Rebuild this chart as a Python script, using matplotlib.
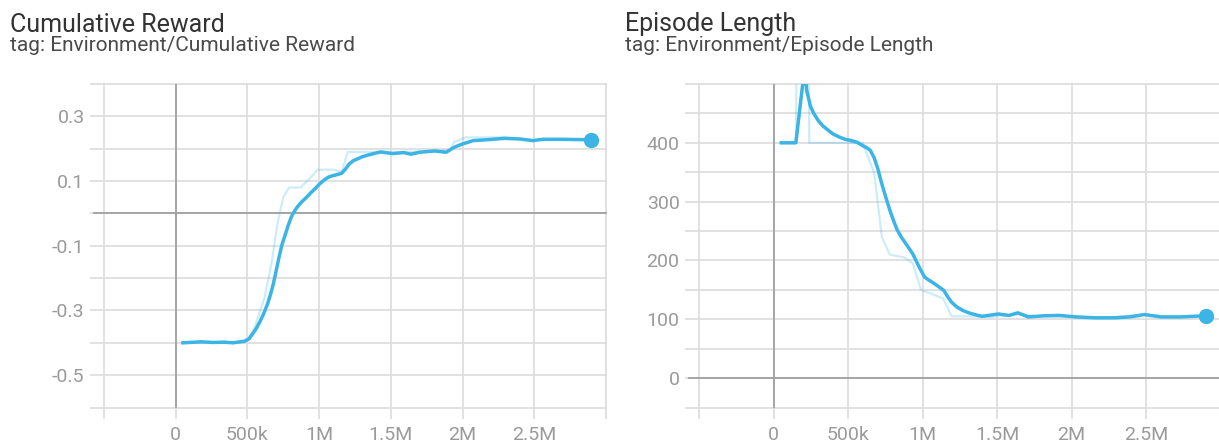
import numpy as np
import matplotlib
matplotlib.use("Agg")
import matplotlib.pyplot as plt

plt.rcParams['font.family'] = ['Roboto', 'DejaVu Sans']

# training curves, steps in thousands
reward_steps = [50, 180, 260, 330, 400, 480, 510, 535, 560, 590, 615, 640, 660, 680, 700, 720,
                740, 765, 785, 805, 825, 846, 875, 910, 945, 980, 1005, 1035, 1060, 1090, 1125,
                1157, 1185, 1210, 1235, 1265, 1300, 1346, 1390, 1430, 1510, 1590, 1640, 1700,
                1805, 1886, 1940, 1995, 2075, 2180, 2290, 2400, 2490, 2560, 2700, 2895]
reward_smooth = [-0.400, -0.397, -0.399, -0.398, -0.400, -0.395, -0.388, -0.373, -0.357, -0.332,
                 -0.308, -0.280, -0.252, -0.219, -0.178, -0.136, -0.098, -0.064, -0.036, -0.012,
                 0.005, 0.019, 0.034, 0.049, 0.065, 0.080, 0.092, 0.103, 0.111, 0.116, 0.120,
                 0.124, 0.138, 0.153, 0.162, 0.168, 0.175, 0.181, 0.186, 0.190, 0.185, 0.188,
                 0.183, 0.189, 0.193, 0.189, 0.204, 0.214, 0.225, 0.228, 0.232, 0.230, 0.225,
                 0.229, 0.229, 0.2275]
reward_raw_steps = [50, 180, 330, 480, 510, 560, 620, 670, 710, 750, 790, 870, 940, 990, 1100,
                    1157, 1200, 1320, 1480, 1600, 1750, 1910, 1940, 2020, 2300, 2490, 2560, 2895]
reward_raw = [-0.400, -0.398, -0.400, -0.398, -0.390, -0.340, -0.260, -0.150, -0.030, 0.050,
              0.080, 0.080, 0.110, 0.135, 0.135, 0.130, 0.190, 0.190, 0.188, 0.190, 0.192,
              0.195, 0.220, 0.235, 0.235, 0.226, 0.230, 0.228]

length_steps = [52, 150, 210, 222, 247, 270, 300, 330, 364, 400, 440, 480, 520, 560, 600, 630,
                650, 675, 700, 725, 753, 780, 805, 830, 857, 895, 935, 975, 1013, 1040, 1065,
                1100, 1143, 1170, 1195, 1230, 1270, 1310, 1350, 1400, 1510, 1580, 1640, 1710,
                1820, 1920, 2030, 2160, 2290, 2390, 2490, 2600, 2730, 2906]
length_smooth = [400, 400, 530, 490, 463, 450, 438, 429, 422, 415, 410, 406, 404, 401, 395, 391,
                 387, 375, 356, 332, 308, 286, 268, 252, 240, 226, 211, 190, 172, 167, 163, 157,
                 149, 138, 129, 121, 115, 111, 108, 105, 109, 106.5, 111, 104, 106, 106.5, 104,
                 102.5, 102.5, 104, 108, 104, 104, 106]
length_raw_steps = [52, 150, 160, 235, 240, 400, 600, 620, 675, 727, 780, 880, 935, 990, 1065,
                    1140, 1195, 1300, 1450, 1640, 1800, 2000, 2200, 2490, 2700, 2906]
length_raw = [400, 400, 700, 700, 400, 400, 400, 385, 350, 240, 210, 205, 195, 150, 143, 135,
              105, 105, 104, 108, 105, 105, 102, 108, 104, 106]

x_grid = [-500e3, 0, 500e3, 1e6, 1.5e6, 2e6, 2.5e6, 3e6]
x_labels = ['', '0', '500k', '1M', '1.5M', '2M', '2.5M', '']
reward_grid = [-0.6, -0.5, -0.4, -0.3, -0.2, -0.1, 0, 0.1, 0.2, 0.3, 0.4]
reward_labels = ['', '-0.5', '', '-0.3', '', '-0.1', '', '0.1', '', '0.3', '']
length_grid = [-50, 0, 50, 100, 150, 200, 250, 300, 350, 400, 450, 500]
length_labels = ['', '0', '', '100', '', '200', '', '300', '', '400', '', '']

BLUE = '#3bb4e6'
GRID = '#dedede'
AXIS = '#a0a0a0'
W, H = 1219, 444

fig = plt.figure(figsize=(W / 100, H / 100), dpi=100)


def panel(x0, x1, y0, y1):
    ax = fig.add_axes([x0 / W, 1 - y1 / H, (x1 - x0) / W, (y1 - y0) / H])
    return ax, x1 - x0


def style(ax, wpx, yticks, ylabels, ylim):
    ax.set_xlim(-500e3, 3e6)
    ax.set_ylim(*ylim)
    for s in ax.spines.values():
        s.set_visible(False)
    ax.set_xticks(x_grid, labels=x_labels)
    ax.set_yticks(yticks, labels=ylabels)
    ax.grid(True, color=GRID, lw=1.3)
    ax.set_axisbelow(True)
    ax.tick_params(axis='x', length=8, width=1.3, color=GRID, labelcolor='#9a9a9a',
                   labelsize=14, pad=5)
    ax.tick_params(axis='y', length=10, width=1.3, color=GRID, labelcolor='#9a9a9a',
                   labelsize=14, pad=4)
    for l in ax.get_xgridlines() + ax.get_ygridlines():
        l.set_clip_on(False)
    ax.axhline(0, xmin=-10 / wpx, xmax=1, color=AXIS, lw=1.3, clip_on=False, zorder=1)
    ax.axvline(0, color=AXIS, lw=1.3, zorder=1)


def curves(ax, xs, ys, rx, ry):
    xs = np.array(xs) * 1e3
    rx = np.array(rx) * 1e3
    ax.plot(rx, ry, color=BLUE, lw=1.6, alpha=0.25, zorder=2)
    ax.plot(xs, ys, color=BLUE, lw=2.5, zorder=3, solid_joinstyle='round')
    ax.plot(xs[-1:], ys[-1:], 'o', color=BLUE, ms=10, zorder=4)


ax1, w1 = panel(104, 606, 84, 407.5)
style(ax1, w1, reward_grid, reward_labels, (-0.6, 0.4))
curves(ax1, reward_steps, reward_smooth, reward_raw_steps, reward_raw)

ax2, w2 = panel(699, 1220.5, 84, 407.5)
style(ax2, w2, length_grid, length_labels, (-50, 500))
curves(ax2, length_steps, length_smooth, length_raw_steps, length_raw)

for x, title, tag in [(10, 'Cumulative Reward', 'Environment/Cumulative Reward'),
                      (625, 'Episode Length', 'Environment/Episode Length')]:
    fig.text(x / W, 1 - 31.5 / H, title, fontsize=18, color='#333333', va='baseline')
    fig.text(x / W, 1 - 51 / H, 'tag: ' + tag, fontsize=15, color='#4a4a4a', va='baseline')

fig.savefig('out.png', dpi=100)
